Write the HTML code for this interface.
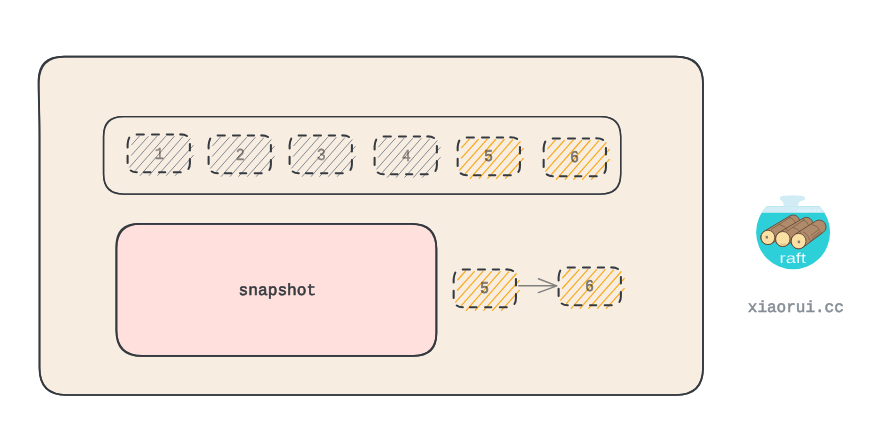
<!DOCTYPE html>
<html lang="en"><head><meta charset="utf-8"><title>raft snapshot</title>
<style>
html,body{margin:0;padding:0;background:#fff;}
body{width:879px;height:438px;overflow:hidden;}
svg{display:block;}
text{text-anchor:middle;text-rendering:geometricPrecision;}
svg{will-change:transform;}
.num{fill:#000;stroke:#000;opacity:0.5;}
.mono{font-family:"Liberation Mono",monospace;font-size:16.8px;stroke-width:0.4px;opacity:0.46;}
.sans{font-family:"Liberation Sans",sans-serif;font-size:15.7px;stroke-width:0.7px;opacity:0.52;}
.snap{font-family:"Liberation Mono",monospace;font-weight:normal;font-size:16.2px;fill:#343a40;stroke:#343a40;stroke-width:0.6px;}
.site{font-family:"Liberation Mono",monospace;font-size:16px;fill:#868e96;stroke:#868e96;stroke-width:0.55px;}
.raft{font-family:"Liberation Sans",sans-serif;font-size:14.6px;fill:#fff;stroke:#2dcfd8;stroke-width:0.15px;}
.tiny{font-family:"Liberation Sans",sans-serif;font-size:4px;fill:#eaf6fb;}
</style></head><body>
<svg width="879" height="438" viewBox="0 0 879 438">
<rect width="879" height="438" fill="#ffffff"/>
<path d="M64.0 56.6 L676.0 56.6 Q703.0 56.6 703.0 83.6 L703.0 368.0 Q703.0 395.0 676.0 395.0 L66.5 395.0 Q39.5 395.0 39.5 368.0 L39.5 135 C39.5 110 38.6 98 38.7 81.1 Q39.02 56.7 64.0 56.6 Z" fill="#f8ede1" stroke="none"/>
<path d="M63.0 56.6 L676.6 56.6 Q703.0 56.6 703.0 83.0 L703.0 368.6 Q703.0 395.0 676.6 395.0 L65.9 395.0 Q39.5 395.0 39.5 368.6 L39.5 135 C39.5 110 38.4 98 38.5 80.1 Q38.90 56.7 63.0 56.6 Z" fill="none" stroke="#343a40" stroke-width="1.7" stroke-linejoin="round"/>
<path d="M65.0 56.6 L675.4 56.6 Q703.0 56.6 703.0 84.2 L703.0 367.4 Q703.0 395.0 675.4 395.0 L67.1 395.0 Q39.5 395.0 39.5 367.4 L39.5 135 C39.5 110 38.699999999999996 98 38.8 82.1 Q39.08 56.7 65.0 56.6 Z" fill="none" stroke="#343a40" stroke-width="1.7" stroke-linejoin="round"/>
<path d="M122.55 116.60 L601.20 116.60 Q620.70 116.60 620.70 136.10 L620.70 174.60 Q620.70 194.10 601.20 194.10 L123.05 194.10 Q103.55 194.10 103.55 174.60 L103.55 135.60 Q103.55 116.60 122.55 116.60 Z" fill="none" stroke="#343a40" stroke-width="1.4" stroke-linejoin="round"/>
<path d="M124.05 116.60 L600.20 116.60 Q620.70 116.60 620.70 137.10 L620.70 173.60 Q620.70 194.10 600.20 194.10 L124.05 194.10 Q103.55 194.10 103.55 173.60 L103.55 137.10 Q103.55 116.60 124.05 116.60 Z" fill="none" stroke="#343a40" stroke-width="1.4" stroke-linejoin="round"/>
<path d="M139.90 223.90 L411.35 223.90 Q436.40 223.90 436.40 248.95 L436.40 333.05 Q436.40 355.90 413.55 355.90 L142.00 355.90 Q116.40 355.90 116.40 330.30 L116.40 247.40 Q116.40 223.90 139.90 223.90 Z" fill="#ffe0dc" stroke="none"/>
<path d="M138.70 223.90 L411.90 223.90 Q436.40 223.90 436.40 248.40 L436.40 333.60 Q436.40 355.90 414.10 355.90 L141.40 355.90 Q116.40 355.90 116.40 330.90 L116.40 246.20 Q116.40 223.90 138.70 223.90 Z" fill="none" stroke="#343a40" stroke-width="1.8" stroke-linejoin="round"/>
<path d="M141.10 223.90 L410.80 223.90 Q436.40 223.90 436.40 249.50 L436.40 332.50 Q436.40 355.90 413.00 355.90 L142.60 355.90 Q116.40 355.90 116.40 329.70 L116.40 248.60 Q116.40 223.90 141.10 223.90 Z" fill="none" stroke="#343a40" stroke-width="1.8" stroke-linejoin="round"/>
<defs>
<path id="hl" d="M4.10 10.31L11.70 1.79M3.80 20.82L20.60 2.08M2.00 32.71L29.30 1.89M7.90 35.91L37.90 2.09M12.70 40.96L46.50 2.09M21.60 40.96L55.00 2.49M30.10 40.96L62.50 4.29M38.90 40.96L65.70 10.99M47.80 40.96L65.70 20.99" fill="none" stroke-linecap="round"/>
<path id="ds" d="M9.05 0 L16.25 0 M24.35 0 L31.35 0 M39.15 0 L45.45 0 M52.60 -0.05 Q57.00 -0.1 59.40 1.55 M62.30 9.50 L62.30 16.10 M62.30 24.60 L62.30 28.75 Q62.30 32.55 60.80 34.55 M46.15 37.80 L53.15 37.80 M31.45 37.80 L37.65 37.80 M16.35 37.80 L22.90 37.80 M9.20 37.85 Q5.40 37.70 3.10 36.05 M0 21.40 L0 28.60 M0 12.95 L0 9.75 Q0.25 5.95 1.65 3.15" fill="none" stroke="#343a40" stroke-width="2.05" stroke-linecap="round" stroke-linejoin="round"/>
</defs>
<use href="#hl" x="127.6" y="134.45" stroke="#7b8591" stroke-width="0.95"/>
<text transform="translate(159.30 158.55) scale(0.9 1)" class="num mono">1</text>
<use href="#ds" x="127.6" y="134.45"/>
<use href="#hl" x="208.6" y="135.45" stroke="#7b8591" stroke-width="0.95"/>
<text transform="translate(240.30 159.55) scale(0.9 1)" class="num mono">2</text>
<use href="#ds" x="208.6" y="135.45"/>
<use href="#hl" x="289.6" y="135.45" stroke="#7b8591" stroke-width="0.95"/>
<text transform="translate(321.30 159.55) scale(0.9 1)" class="num mono">3</text>
<use href="#ds" x="289.6" y="135.45"/>
<use href="#hl" x="374.6" y="136.45" stroke="#7b8591" stroke-width="0.95"/>
<text transform="translate(406.30 160.55) scale(0.9 1)" class="num mono">4</text>
<use href="#ds" x="374.6" y="136.45"/>
<use href="#hl" x="457.65" y="137.4" stroke="#f9aa1c" stroke-width="1.2"/>
<text transform="translate(488.50 161.35) scale(0.93 1)" class="num sans">5</text>
<use href="#ds" x="457.65" y="137.4"/>
<use href="#hl" x="543.65" y="138.4" stroke="#f9aa1c" stroke-width="1.2"/>
<text transform="translate(574.50 162.35) scale(0.93 1)" class="num sans">6</text>
<use href="#ds" x="543.65" y="138.4"/>
<use href="#hl" x="453.65" y="269.45" stroke="#f9aa1c" stroke-width="1.2"/>
<text transform="translate(484.50 293.40) scale(0.93 1)" class="num sans">5</text>
<use href="#ds" x="453.65" y="269.45"/>
<use href="#hl" x="558.6" y="267.45" stroke="#f9aa1c" stroke-width="1.2"/>
<text transform="translate(589.45 291.40) scale(0.93 1)" class="num sans">6</text>
<use href="#ds" x="558.6" y="267.45"/>
<path d="M518.6 285.85 L556.6 285.85 M538.4 278.8 L556.8 285.85 L538.4 292.6" fill="none" stroke="#808080" stroke-width="1.5" stroke-linecap="round" stroke-linejoin="round"/>
<text x="277.4" y="294.8" class="snap">snapshot</text>
<text x="795.8" y="311.5" class="site">xiaorui.cc</text>
<g id="logo">
<defs><clipPath id="lc"><rect x="750" y="206.2" width="90" height="70"/></clipPath><clipPath id="cc"><circle cx="793.1" cy="232.3" r="37"/></clipPath></defs>
<g clip-path="url(#lc)"><circle cx="793.1" cy="232.3" r="37" fill="#2dcfd8"/></g>
<g clip-path="url(#cc)"><rect x="750" y="206.2" width="90" height="6.6" fill="#d1ecf5"/></g>
<path d="M780 197.4 Q780.1 196.3 783.4 195.8 Q792.4 194.5 801.4 195.8 Q804.7 196.3 804.8 197.4 L804.8 199.2 Q804.7 200 803.6 200.2 Q799.6 200.9 798.5 203.2 Q798.1 204.4 798.1 206.4 L783.8 206.4 Q783.8 204.4 783.4 203.2 Q782.3 200.9 781.2 200.2 Q780.1 200 780 199.2 Z" fill="#d1ecf5"/>
<text x="796.8" y="211.5" class="tiny" style="text-anchor:start" textLength="24" lengthAdjust="spacingAndGlyphs">raft.github.io</text>
<path d="M771.91 243.38 L796.76 226.72 A6.4 6.4 0 0 0 789.93 215.90 L764.22 231.21 A7.2 7.2 0 1 0 771.91 243.38 Z" fill="#b08b6b" stroke="#5f4433" stroke-width="0.85" stroke-linejoin="round"/>
<path d="M787.08 245.16 L810.01 229.24 A6.5 6.5 0 0 0 802.98 218.31 L778.97 232.55 A7.5 7.5 0 1 0 787.08 245.16 Z" fill="#b08b6b" stroke="#5f4433" stroke-width="0.85" stroke-linejoin="round"/>
<path d="M803.20 247.28 L823.26 232.36 A6.8 6.8 0 0 0 815.54 221.17 L794.46 234.61 A7.7 7.7 0 1 0 803.20 247.28 Z" fill="#b08b6b" stroke="#5f4433" stroke-width="0.85" stroke-linejoin="round"/>
<path d="M789.5 217.5 Q794.5 219 795.5 223 M779 224.5 Q786 226.5 787.5 230.5 M771.5 229.2 L790.5 217.2 M803 219.8 Q807.5 221.5 808.5 225 M793 227.5 Q799 229 800.5 232.5 M787 231.2 L804.5 219.6 M812 224.5 Q817.5 225.5 819.5 229.5 M803.5 232 Q808.5 234.5 809.5 240 M810 241.5 L821.5 232.5 M812 238 L820.5 231.2 M811 235.5 L818.5 229.8" fill="none" stroke="#5f4433" stroke-width="0.55" stroke-linecap="round" opacity="0.9"/>
<ellipse cx="767.9" cy="237.4" rx="6.90" ry="7.20" fill="#fbe0a4" stroke="#5f4433" stroke-width="0.9"/>
<ellipse cx="782.8" cy="239.0" rx="7.20" ry="7.50" fill="#fbe0a4" stroke="#5f4433" stroke-width="0.9"/>
<ellipse cx="798.6" cy="241.1" rx="7.40" ry="7.70" fill="#fbe0a4" stroke="#5f4433" stroke-width="0.9"/>
<rect x="765.6" y="235.9" width="2.4" height="2.6" fill="#8a7a70"/>
<rect x="797.7" y="240.6" width="2.4" height="2.6" fill="#8a7a70"/>
<path d="M780.2 243.6 Q783 245.4 786 243.8" fill="none" stroke="#5f4433" stroke-width="0.4" opacity="0.6"/>
<text x="779.5" y="263" class="raft" style="text-anchor:start" textLength="26.6" lengthAdjust="spacingAndGlyphs">raft</text>
</g>
</svg>
</body></html>
